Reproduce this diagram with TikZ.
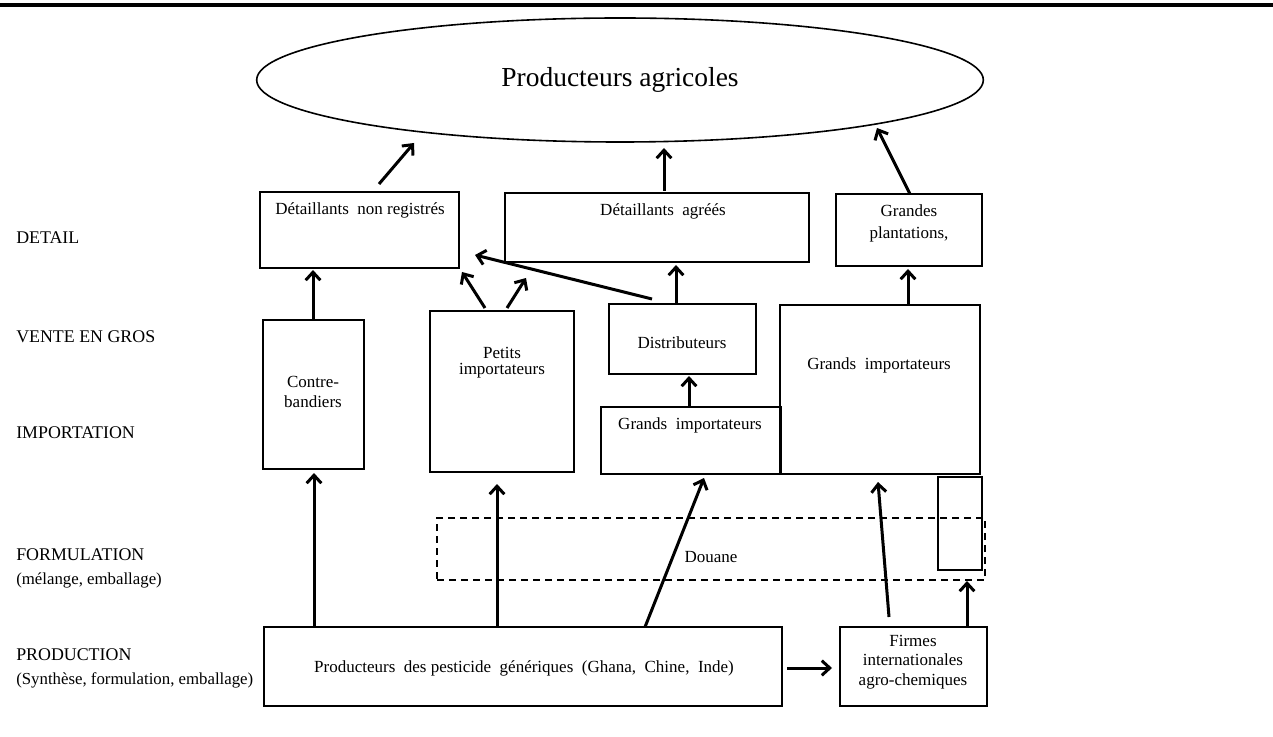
\documentclass[tikz,border=0pt]{standalone}
\usepackage{fontspec}
\setmainfont{Liberation Serif}
\usetikzlibrary{arrows.meta,fit,shapes.geometric}
\begin{document}
\begin{tikzpicture}[x=0.75pt,y=-0.75pt,
  box/.style={draw, line width=1.5pt, inner sep=0pt},
  customs/.style={draw, line width=1.5pt, dash pattern=on 5.25pt off 3.75pt, inner sep=0pt},
  txt/.style={font=\fontsize{12.75}{15}\selectfont, inner sep=0pt, align=center},
  lbl/.style={font=\fontsize{13.4}{15}\selectfont, inner sep=0pt, anchor=base west},
  sublbl/.style={font=\fontsize{12.6}{15}\selectfont, inner sep=0pt, anchor=base west},
  arr/.style={line width=2.25pt, -{Straight Barb[length=6pt,width=11pt]}}]
\useasboundingbox (0,0) rectangle (1273,737);

% header rule
\coordinate (ruleL) at (0,5);
\coordinate (ruleR) at (1273,5);
\draw[line width=2.5pt] (ruleL) -- (ruleR);

% farmers
\node[draw, ellipse, line width=1.2pt, minimum width=545pt, minimum height=93pt,
      font=\fontsize{20.6}{24}\selectfont] (agri) at (620,80) {Producteurs agricoles};

% level labels
\node[lbl] (lDetail) at (16,243.5) {DETAIL};
\node[lbl] (lGros)   at (16,342.5) {VENTE EN GROS};
\node[lbl] (lImport) at (16,438.5) {IMPORTATION};
\node[lbl] (lForm)   at (16,560.5) {FORMULATION};
\node[sublbl] (lForm2)  at (16,584)   {(mélange, emballage)};
\node[lbl] (lProd)   at (16,660.5) {PRODUCTION};
\node[sublbl] (lProd2)  at (16,684)   {(Synthèse, formulation, emballage)};

% retail level
\node[box, fit={(260,192) (459,268)}] (nonreg) {};
\node[txt] (tNonreg) at (360,210) {Détaillants\ \ non registrés};
\node[box, fit={(505,193) (809,262)}] (agrees) {};
\node[txt] (tAgrees) at (663,211) {Détaillants\ \ agréés};
\node[box, fit={(836,194) (982,266)}] (plant) {};
\node[txt, font=\fontsize{12.75}{16.5}\selectfont] (tPlant) at (909,223) {Grandes\\plantations,};

% wholesale / import level
\node[box, fit={(263,320) (364,469)}] (contre) {};
\node[txt] (tContre) at (313,392) {Contre-\\bandiers};
\node[box, fit={(430,311) (574,472)}] (petits) {};
\node[txt, font=\fontsize{12.75}{12.2}\selectfont] (tPetits) at (502,363) {Petits\\importateurs};
\node[box, fit={(609,304) (756,374)}] (distrib) {};
\node[txt] (tDistrib) at (682,343) {Distributeurs};
\node[box, fit={(601,407) (781,474)}] (gimpA) {};
\node[txt] (tGimpA) at (690,425) {Grands\ \ importateurs};
\node[box, fit={(780,305) (980,474)}] (gimpB) {};
\node[txt] (tGimpB) at (879,365) {Grands\ \ importateurs};

% customs
\node[customs, fit={(437,518) (985,580)}] (douane) {};
\node[txt] (tDouane) at (711,557) {Douane};
\node[box, fit={(938,477) (982,570)}] (relay) {};

% production level
\node[box, fit={(264,627) (782,706)}] (prod) {};
\node[txt] (tProd) at (524,668) {Producteurs\ \ des pesticide\ \ génériques\ \ (Ghana,\ \ Chine,\ \ Inde)};
\node[box, fit={(840,627) (987,706)}] (firmes) {};
\node[txt, font=\fontsize{12.75}{14.5}\selectfont] (tFirmes) at (913,662) {Firmes\\internationales\\agro-chemiques};

% arrow end points
\coordinate (a1s) at (379,184);  \coordinate (a1e) at (414,143);
\coordinate (a2s) at (664,191);  \coordinate (a2e) at (664,148);
\coordinate (a3s) at (910,194);  \coordinate (a3e) at (877,128);
\coordinate (a4s) at (313,320);  \coordinate (a4e) at (313,270);
\coordinate (a5s) at (485,308);  \coordinate (a5e) at (462,272);
\coordinate (a6s) at (507,308);  \coordinate (a6e) at (526,278);
\coordinate (a7s) at (652,299);  \coordinate (a7e) at (475,255);
\coordinate (a8s) at (676,304);  \coordinate (a8e) at (676,265);
\coordinate (a9s) at (689,407);  \coordinate (a9e) at (689,376);
\coordinate (a10s) at (908,305); \coordinate (a10e) at (908,269);
\coordinate (a11s) at (314,627); \coordinate (a11e) at (314,473);
\coordinate (a12s) at (497,627); \coordinate (a12e) at (497,484);
\coordinate (a13s) at (645,627); \coordinate (a13e) at (704,478);
\coordinate (a14s) at (889,617); \coordinate (a14e) at (878,482);
\coordinate (a15s) at (967,627); \coordinate (a15e) at (967,581);
\coordinate (a16s) at (787,668); \coordinate (a16e) at (832,668);

% flows
\draw[arr] (a1s) -- (a1e);
\draw[arr] (a2s) -- (a2e);
\draw[arr] (a3s) -- (a3e);
\draw[arr] (a4s) -- (a4e);
\draw[arr] (a5s) -- (a5e);
\draw[arr] (a6s) -- (a6e);
\draw[arr] (a7s) -- (a7e);
\draw[arr] (a8s) -- (a8e);
\draw[arr] (a9s) -- (a9e);
\draw[arr] (a10s) -- (a10e);
\draw[arr] (a11s) -- (a11e);
\draw[arr] (a12s) -- (a12e);
\draw[arr] (a13s) -- (a13e);
\draw[arr] (a14s) -- (a14e);
\draw[arr] (a15s) -- (a15e);
\draw[arr] (a16s) -- (a16e);
\end{tikzpicture}
\end{document}
